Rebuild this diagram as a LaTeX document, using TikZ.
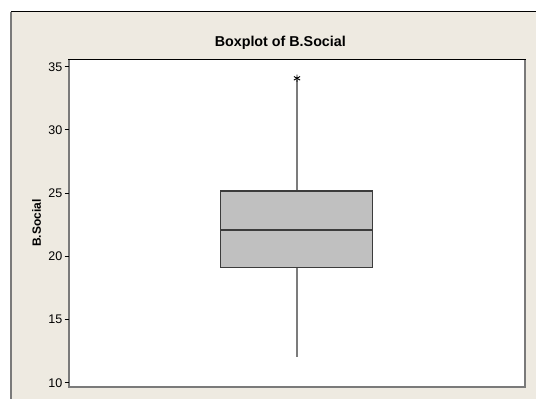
\documentclass[tikz,border=0pt]{standalone}
\usepackage{fontspec}
\setmainfont{Liberation Sans}
\definecolor{panelbg}{HTML}{EEEAE1}
\definecolor{framegray}{HTML}{7A7A7A}
\definecolor{boxfill}{HTML}{C0C0C0}
\definecolor{boxedge}{HTML}{3C3C3C}
\definecolor{whiskgray}{HTML}{7C7C7C}
\tikzset{
  ticklabel/.style={anchor=east, inner sep=0pt, font=\fontsize{12.5}{13}\selectfont},
  tickmark/.style={line width=1pt, black},
  whisker/.style={line width=1.5pt, whiskgray},
  boxshape/.style={fill=boxfill, draw=boxedge, line width=1.2pt},
}
\begin{document}
\begin{tikzpicture}[x=1pt,y=-1pt]
\useasboundingbox (0,0) rectangle (536,399);
\fill[white] (0,0) rectangle (536,399);
% outer panel
\fill[panelbg] (11,11.5) rectangle (536,399);
\draw[black, line width=1pt] (11,11.5) -- (536,11.5);
\draw[framegray, line width=2pt] (11,11.5) -- (11,399);
% title
\node[font=\bfseries\fontsize{14.3}{15}\selectfont, inner sep=0pt] (title) at (280.3,42.7) {Boxplot of B.Social};
% plot area
\fill[white] (69,59.3) rectangle (525,387);
\draw[framegray, line width=1.8pt] (69,59.3) -- (69,387) -- (525,387) -- (525,59.3);
\draw[black, line width=1pt] (68.1,59.3) -- (525.9,59.3);
% y axis ticks
\foreach \v in {10,15,20,25,30,35}{
  \pgfmathsetmacro{\yy}{382.7-(\v-10)*12.64}
  \draw[tickmark] (64.5,\yy) -- (69,\yy);
  \node[ticklabel] (tick\v) at (62.5,\yy) {\v};
}
% axis label
\node[font=\bfseries\fontsize{12}{13}\selectfont, rotate=90, inner sep=0pt] (ylabel) at (36.7,223) {B.Social};
% whiskers
\coordinate (q3top) at (297,191);
\coordinate (q1bot) at (297,267.3);
\coordinate (whiskhi) at (297,80);
\coordinate (whisklo) at (297,357.4);
\draw[whisker] (q1bot) -- (whisklo);
\draw[whisker] (q3top) -- (whiskhi);
% box
\draw[boxshape] (220.7,191) rectangle (372.7,267.3);
\draw[boxedge, line width=1.2pt] (220.7,230) -- (372.7,230);
% outlier star
\coordinate (star) at (297,78.3);
\draw[black, line width=0.9pt] ([yshift=-3.6pt]star) -- ([yshift=3.6pt]star)
  ([shift={(-3.1,-1.8)}]star) -- ([shift={(3.1,1.8)}]star)
  ([shift={(-3.1,1.8)}]star) -- ([shift={(3.1,-1.8)}]star);
\end{tikzpicture}
\end{document}
